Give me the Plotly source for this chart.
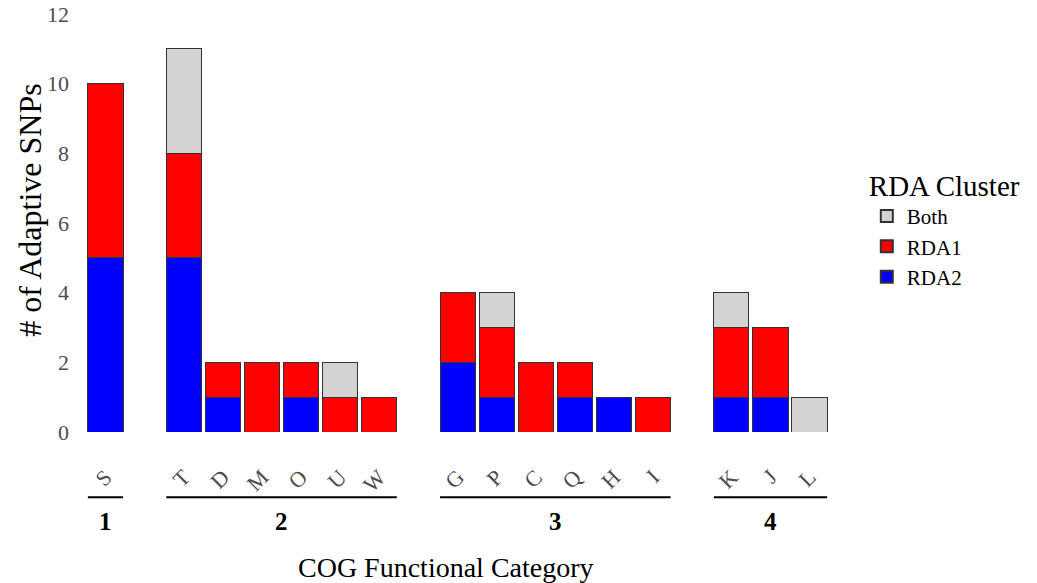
import plotly.graph_objects as go

# ---- data ----
groups = ["1", "2", "3", "4"]
group_categories = [
    ["S"],
    ["T", "D", "M", "O", "U", "W"],
    ["G", "P", "C", "Q", "H", "I"],
    ["K", "J", "L"],
]
rda2 = [[5], [5, 1, 0, 1, 0, 0], [2, 1, 0, 1, 1, 0], [1, 1, 0]]
rda1 = [[5], [3, 1, 2, 1, 1, 1], [2, 2, 2, 1, 0, 1], [2, 2, 0]]
both = [[0], [3, 0, 0, 0, 1, 0], [0, 1, 0, 0, 0, 0], [1, 0, 1]]
y_ticks = [0, 2, 4, 6, 8, 10, 12]

series = [("RDA2", rda2, "#0000FF"), ("RDA1", rda1, "#FF0000"), ("Both", both, "#D3D3D3")]

FONT = "Liberation Serif, Times New Roman, serif"
W, H = 1037, 583
ml, mr, mt, mb = 82, 204, 14, 151
plot_w = W - ml - mr

# panel widths proportional to (n categories + 0.2), gaps fixed
gap_px = 31.5
n_units = [len(c) + 0.2 for c in group_categories]
unit_px = (plot_w - gap_px * 3) / sum(n_units)

fig = go.Figure()
x0 = 0.0
for gi, cats in enumerate(group_categories):
    wpx = n_units[gi] * unit_px
    dom = [x0 / plot_w, (x0 + wpx) / plot_w]
    x0 += wpx + gap_px
    axname = "xaxis" if gi == 0 else f"xaxis{gi+1}"
    xref = "x" if gi == 0 else f"x{gi+1}"
    for name, vals, col in series:
        fig.add_trace(go.Bar(
            x=cats, y=vals[gi], name=name, marker_color=col,
            marker_line_color="#333333", marker_line_width=1,
            xaxis=xref, yaxis="y", legendgroup=name, showlegend=(gi == 0),
            width=0.9,
        ))
    fig.layout[axname] = dict(
        domain=dom, type="category", categoryorder="array", categoryarray=cats,
        range=[-0.6, len(cats) - 0.4], tickangle=-45, showgrid=False,
        zeroline=False, showline=False, ticks="", fixedrange=True,
        tickfont=dict(family=FONT, size=22, color="#4D4D4D"),
        ticklabelstandoff=27, anchor="y", automargin=False,
    )
    # group underline and label
    fig.add_shape(type="line", xref=xref, yref="paper",
                  x0=-0.45, x1=len(cats) - 1 + 0.45, y0=-0.156, y1=-0.156,
                  line=dict(color="black", width=2))
    fig.add_annotation(xref=f"{xref} domain", yref="paper", x=0.5, y=-0.215,
                       xanchor="center", yanchor="middle",
                       text=f"<b>{groups[gi]}</b>", showarrow=False,
                       font=dict(family=FONT, size=25, color="black"))

fig.update_layout(
    barmode="stack",
    width=W, height=H,
    margin=dict(l=ml, r=mr, t=mt, b=mb, autoexpand=False),
    plot_bgcolor="white", paper_bgcolor="white",
    yaxis=dict(range=[0, 12], tickvals=y_ticks, showgrid=False, zeroline=False,
               showline=False, ticks="", ticklabelstandoff=12, automargin=False,
               fixedrange=True,
               tickfont=dict(family=FONT, size=22, color="#4D4D4D")),
    legend=dict(x=1.045, y=0.655, xanchor="left", yanchor="top",
                traceorder="reversed",
                title=dict(text="RDA Cluster", font=dict(family=FONT, size=29, color="black")),
                font=dict(family=FONT, size=21, color="black"),
                itemsizing="constant", tracegroupgap=0),
    showlegend=True,
)

fig.add_annotation(xref="paper", yref="paper", x=0.485, y=-0.323,
                   xanchor="center", yanchor="middle",
                   text="COG Functional Category", showarrow=False,
                   font=dict(family=FONT, size=28, color="black"))
fig.add_annotation(xref="paper", yref="paper", x=-0.069, y=0.53,
                   xanchor="center", yanchor="middle",
                   text="# of Adaptive SNPs", showarrow=False, textangle=-90,
                   font=dict(family=FONT, size=32, color="black"))

fig.write_html("out.html", config={"displayModeBar": False},
               post_script="document.body.style.margin='0';document.body.style.overflow='hidden';")
